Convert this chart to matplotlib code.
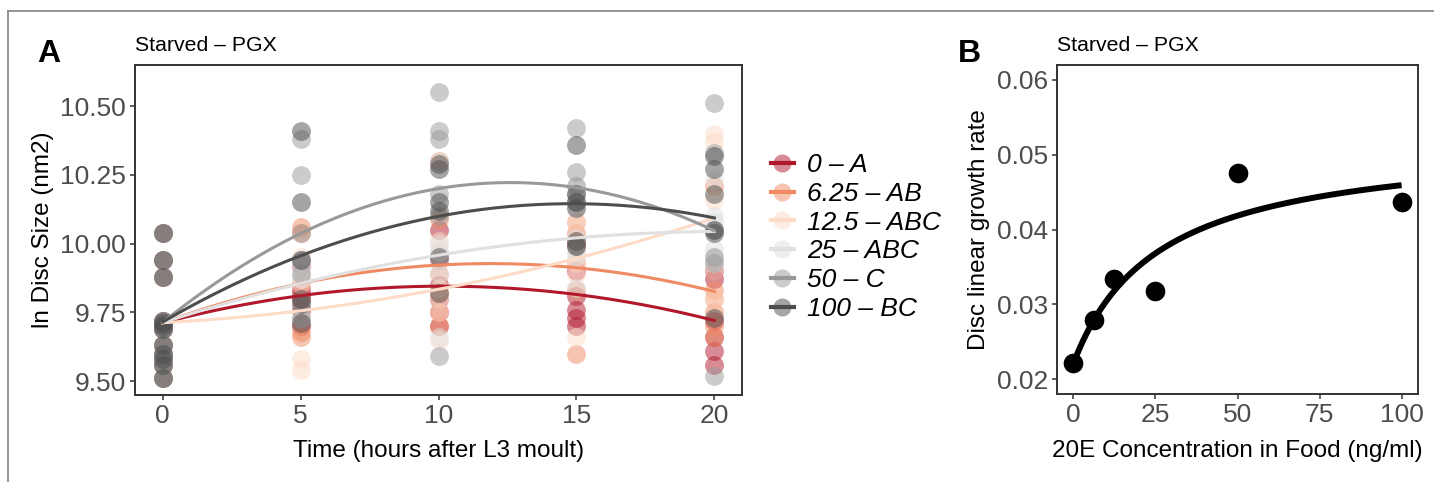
import numpy as np
import matplotlib
matplotlib.use("Agg")
import matplotlib.pyplot as plt
from matplotlib.lines import Line2D

plt.rcParams['font.family'] = ['Liberation Sans', 'DejaVu Sans']

# ---- panel A: disc size over time, one group per 20E dose ----
times = [0, 5, 10, 15, 20]
doses = ["0", "6.25", "12.5", "25", "50", "100"]
letters = ["A", "AB", "ABC", "ABC", "C", "BC"]
colours = ["#B2182B", "#EF8A62", "#FDDBC7", "#E0E0E0", "#999999", "#4D4D4D"]

# larvae sampled at moult (t = 0), shared by every dose
baseline = [10.04, 9.94, 9.88, 9.72, 9.71, 9.70, 9.69, 9.63, 9.60, 9.58, 9.56, 9.51]

# ln disc size at 5, 10, 15 and 20 h
dose_0 = [[9.70, 9.76, 9.80, 9.82, 9.92, 9.84],
          [9.80, 9.75, 9.70, 9.85, 9.94, 10.05],
          [10.00, 9.76, 9.73, 9.81, 9.90, 9.70],
          [9.90, 9.87, 9.56, 9.61, 9.72, 9.66]]
dose_6 = [[10.06, 10.04, 9.68, 9.66, 9.80, 9.86],
          [10.30, 10.09, 9.89, 9.82, 9.75, 9.70],
          [10.08, 10.04, 9.93, 9.60, 9.83, 10.01],
          [10.21, 9.83, 9.80, 9.66, 9.75, 9.70]]
dose_12 = [[9.58, 9.54, 9.73, 9.85, 9.95, 9.87],
           [10.01, 9.97, 9.65, 9.84, 9.75, 9.80],
           [10.08, 9.93, 9.89, 9.66, 10.15, 9.97],
           [10.40, 10.37, 10.16, 9.80, 9.93, 9.90]]
dose_25 = [[9.94, 9.92, 9.89, 9.87, 9.73, 9.78],
           [10.30, 10.00, 9.97, 9.94, 9.89, 9.66],
           [10.21, 10.13, 10.02, 9.97, 9.84, 9.95],
           [9.98, 9.95, 10.23, 10.08, 9.93, 10.10]]
dose_50 = [[10.38, 10.25, 9.94, 10.04, 9.89, 9.73],
           [10.55, 10.41, 10.38, 10.18, 10.10, 9.59],
           [10.42, 10.21, 10.18, 10.15, 9.99, 10.26],
           [10.51, 10.33, 9.93, 9.52, 9.95, 10.05]]
dose_100 = [[10.41, 10.15, 9.94, 9.80, 9.78, 9.71],
            [10.29, 10.27, 10.15, 10.12, 9.95, 9.82],
            [10.36, 10.18, 10.15, 10.13, 10.01, 9.99],
            [10.32, 10.27, 10.18, 10.05, 10.04, 9.73]]
groups = [dose_0, dose_6, dose_12, dose_25, dose_50, dose_100]

# ---- panel B: growth rate vs 20E concentration ----
conc = [0, 6.25, 12.5, 25, 50, 100]
rate = [0.0221, 0.0279, 0.0334, 0.0318, 0.0475, 0.0437]


def group_xy(g):
    x = [0] * len(baseline)
    y = list(baseline)
    for t, vals in zip(times[1:], g):
        x += [t] * len(vals)
        y += vals
    return np.array(x, float), np.array(y, float)


fig = plt.figure(figsize=(14.34, 4.82), dpi=100)
axA = fig.add_axes([135 / 1434, 1 - 395 / 482, 607 / 1434, 330 / 482])
axB = fig.add_axes([1057 / 1434, 1 - 394 / 482, 361 / 1434, 329 / 482])

# scatter first, then quadratic fits (lm, y ~ poly(x, 2))
for g, col in zip(groups, colours):
    x, y = group_xy(g)
    axA.scatter(x, y, s=185, color=col, alpha=0.5, linewidths=0, zorder=2)
xs = np.linspace(0, 20, 200)
for g, col in zip(groups, colours):
    x, y = group_xy(g)
    coef = np.polyfit(x, y, 2)
    axA.plot(xs, np.polyval(coef, xs), color=col, lw=2.2, zorder=3)

axA.set_xlim(-1, 21)
axA.set_ylim(9.45, 10.65)
axA.set_xticks([0, 5, 10, 15, 20])
axA.set_yticks([9.50, 9.75, 10.00, 10.25, 10.50])
axA.set_yticklabels([f"{v:.2f}" for v in [9.50, 9.75, 10.00, 10.25, 10.50]])
axA.set_xlabel("Time (hours after L3 moult)", fontsize=17.5, va='baseline')
axA.xaxis.set_label_coords(0.5, -0.188)
axA.set_ylabel("ln Disc Size (nm2)", fontsize=17.5, va='baseline')
axA.yaxis.set_label_coords(-0.142, 0.5)
axA.set_title("Starved – PGX", loc='left', fontsize=15.3, pad=10)

# saturating fit a + b*x/(K+x), K by grid search
cx = np.array(conc)
cy = np.array(rate)
best = None
for K in np.arange(1, 200, 0.25):
    u = cx / (K + cx)
    M = np.column_stack([np.ones_like(u), u])
    p, res, *_ = np.linalg.lstsq(M, cy, rcond=None)
    sse = np.sum((M @ p - cy) ** 2)
    if best is None or sse < best[0]:
        best = (sse, K, p)
_, K, (a, b) = best
xb = np.linspace(0, 100, 300)
axB.plot(xb, a + b * xb / (K + xb), color='black', lw=4.3, zorder=2,
         solid_capstyle='butt')
axB.scatter(conc, rate, s=200, color='black', linewidths=0, zorder=3)

axB.set_xlim(-5, 105)
axB.set_ylim(0.018, 0.062)
axB.set_xticks([0, 25, 50, 75, 100])
axB.set_yticks([0.02, 0.03, 0.04, 0.05, 0.06])
axB.set_yticklabels([f"{v:.2f}" for v in [0.02, 0.03, 0.04, 0.05, 0.06]])
axB.set_xlabel("20E Concentration in Food (ng/ml)", fontsize=17.5, va='baseline')
axB.xaxis.set_label_coords(0.5, -0.191)
axB.set_ylabel("Disc linear growth rate", fontsize=17.5, va='baseline')
axB.yaxis.set_label_coords(-0.2, 0.5)
axB.set_title("Starved – PGX", loc='left', fontsize=15.3, pad=10)

for ax in (axA, axB):
    for sp in ax.spines.values():
        sp.set_color('#333333')
        sp.set_linewidth(1.4)
    ax.tick_params(length=3.6, width=1.1, color='#333333', labelsize=19,
                   labelcolor='#4D4D4D', pad=3)

# legend: translucent point with the fit line through it
handles = []
for col in colours:
    pt = Line2D([], [], ls='none', marker='o', markersize=13,
                markerfacecolor=col, markeredgewidth=0, alpha=0.5)
    ln = Line2D([], [], color=col, lw=3)
    handles.append((pt, ln))
labels = [f"{d} – {l}" for d, l in zip(doses, letters)]
fig.legend(handles, labels, loc='upper left', bbox_to_anchor=(771 / 1434, 1 - 153 / 482),
           frameon=False, prop={'size': 19, 'style': 'italic'}, handlelength=0.87,
           handletextpad=0.5, labelspacing=0.18, borderpad=0, borderaxespad=0)

# panel letters
fig.text(37 / 1434, 1 - 62 / 482, "A", fontsize=23, fontweight='bold', va='baseline')
fig.text(958 / 1434, 1 - 62 / 482, "B", fontsize=23, fontweight='bold', va='baseline')

# partial frame (top and left)
fig.add_artist(Line2D([8 / 1434, 1], [1 - 10.5 / 482, 1 - 10.5 / 482],
                      color='#8c8c8c', lw=1.3, transform=fig.transFigure))
fig.add_artist(Line2D([8 / 1434, 8 / 1434], [0, 1 - 10.5 / 482],
                      color='#8c8c8c', lw=1.3, transform=fig.transFigure))

fig.savefig("out.png", dpi=100)
